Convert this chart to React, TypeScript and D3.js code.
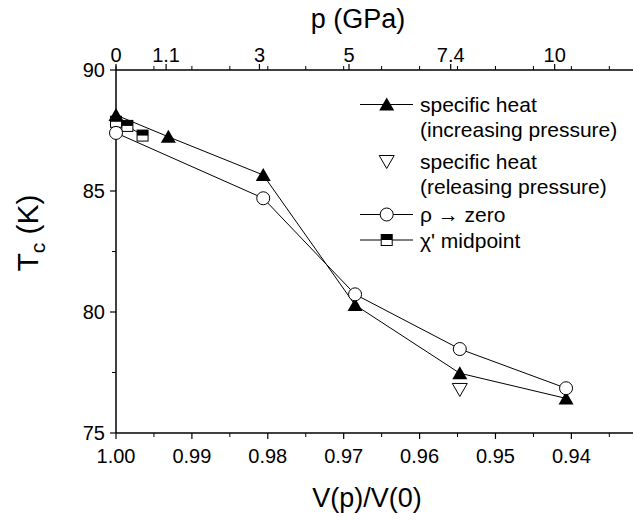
import React from "react";
import * as d3 from "d3";

// ---- data ----
const V_INC = [1.0, 0.9931, 0.9806, 0.9685, 0.9547, 0.9407];
const T_INC = [88.14, 87.24, 85.66, 80.29, 77.47, 76.43];
const V_REL = [0.9547];
const T_REL = [76.8];
const V_RHO = [1.0, 0.9806, 0.9685, 0.9547, 0.9407];
const T_RHO = [87.4, 84.7, 80.73, 78.47, 76.85];
const V_CHI = [1.0, 0.9985, 0.9965];
const T_CHI = [87.86, 87.69, 87.29];

const X_MAJOR = [1.0, 0.99, 0.98, 0.97, 0.96, 0.95, 0.94];
const X_MINOR = [0.995, 0.985, 0.975, 0.965, 0.955, 0.945, 0.935];
const Y_MAJOR = [75, 80, 85, 90];
const Y_MINOR = [77.5, 82.5, 87.5];
const P_LABELS = ["0", "1.1", "3", "5", "7.4", "10"];
const P_V = [1.0, 0.9934, 0.9811, 0.9693, 0.9559, 0.9422];

const LEGEND_LINES = [
  "specific heat",
  "(increasing pressure)",
  "specific heat",
  "(releasing pressure)",
  "\u03C1 \u2192 zero",
  "\u03C7' midpoint",
];

const W = 633;
const H = 520;
const FONT = "'Liberation Sans', Arial, Helvetica, sans-serif";

const x = d3.scaleLinear().domain([1.0, 0.93188]).range([116, 633]);
const y = d3.scaleLinear().domain([75, 90]).range([433, 70]);

const triUp = "M0,-7L7.5,6L-7.5,6Z";
const triDown = "M0,7L7.5,-6L-7.5,-6Z";

function HalfSquare({ cx, cy }: { cx: number; cy: number }) {
  const s = 11;
  return (
    <g transform={`translate(${cx},${cy})`}>
      <rect x={-s / 2} y={-s / 2} width={s} height={s} fill="white" stroke="black" strokeWidth={1} />
      <rect x={-s / 2} y={-s / 2} width={s} height={s / 2} fill="black" />
    </g>
  );
}

export default function App() {
  const line = d3
    .line<[number, number]>()
    .x((d) => x(d[0]))
    .y((d) => y(d[1]));
  const incPts = V_INC.map((v, i) => [v, T_INC[i]] as [number, number]);
  const rhoPts = V_RHO.map((v, i) => [v, T_RHO[i]] as [number, number]);
  const chiPts = V_CHI.map((v, i) => [v, T_CHI[i]] as [number, number]);

  const axisY = y(75);
  const topY = y(90);
  const x0 = x(1.0);
  const xEnd = x.range()[1];

  const legX1 = 360;
  const legX2 = 413;
  const legM = 386.7;
  const legText = 420;
  const legBase = [112, 137, 169, 194, 222, 247.5];

  return (
    <svg
      width={W}
      height={H}
      style={{ position: "absolute", left: 0, top: 0, display: "block", background: "white" }}
      fontFamily={FONT}
    >
      <rect width={W} height={H} fill="white" />
      {/* axes lines */}
      <line x1={x0} x2={xEnd} y1={axisY} y2={axisY} stroke="black" strokeWidth={1.5} />
      <line x1={x0} x2={xEnd} y1={topY} y2={topY} stroke="black" strokeWidth={1.5} />
      <line x1={x0} x2={x0} y1={topY} y2={axisY} stroke="black" strokeWidth={1.5} />

      {/* bottom ticks */}
      {X_MAJOR.map((v) => (
        <g key={"bx" + v}>
          <line x1={x(v)} x2={x(v)} y1={axisY} y2={axisY + 6} stroke="black" strokeWidth={1.2} />
          <text x={x(v)} y={463} textAnchor="middle" fontSize={20}>
            {v.toFixed(2)}
          </text>
          <line x1={x(v)} x2={x(v)} y1={topY} y2={topY - 4} stroke="black" strokeWidth={1} />
        </g>
      ))}
      {X_MINOR.map((v) => (
        <g key={"bm" + v}>
          <line x1={x(v)} x2={x(v)} y1={axisY} y2={axisY + 4} stroke="black" strokeWidth={1} />
          <line x1={x(v)} x2={x(v)} y1={topY} y2={topY - 4} stroke="black" strokeWidth={1} />
        </g>
      ))}
      {/* top pressure ticks */}
      {P_V.map((v, i) => (
        <g key={"p" + i}>
          <line x1={x(v)} x2={x(v)} y1={topY} y2={topY - 6} stroke="black" strokeWidth={1.2} />
          <text x={x(v)} y={62} textAnchor="middle" fontSize={20}>
            {P_LABELS[i]}
          </text>
        </g>
      ))}
      {/* y ticks */}
      {Y_MAJOR.map((t) => (
        <g key={"y" + t}>
          <line x1={x0 - 6} x2={x0} y1={y(t)} y2={y(t)} stroke="black" strokeWidth={1.2} />
          <text x={105} y={y(t) + 7} textAnchor="end" fontSize={20}>
            {t}
          </text>
        </g>
      ))}
      {Y_MINOR.map((t) => (
        <line key={"ym" + t} x1={x0 - 4} x2={x0} y1={y(t)} y2={y(t)} stroke="black" strokeWidth={1} />
      ))}

      {/* titles */}
      <text x={358} y={28} textAnchor="middle" fontSize={27}>
        p (GPa)
      </text>
      <text x={367} y={507} textAnchor="middle" fontSize={27}>
        V(p)/V(0)
      </text>
      <text transform="translate(38,233) rotate(-90)" textAnchor="middle" fontSize={30}>
        T
        <tspan fontSize={21} dy={7}>
          c
        </tspan>
        <tspan dy={-7}> (K)</tspan>
      </text>

      {/* series lines */}
      <path d={line(incPts) || ""} fill="none" stroke="black" strokeWidth={1} />
      <path d={line(rhoPts) || ""} fill="none" stroke="black" strokeWidth={1} />
      <path d={line(chiPts) || ""} fill="none" stroke="black" strokeWidth={1} />

      {/* markers */}
      {V_CHI.map((v, i) => (
        <HalfSquare key={"c" + i} cx={x(v)} cy={y(T_CHI[i])} />
      ))}
      {V_INC.map((v, i) => (
        <path key={"t" + i} d={triUp} transform={`translate(${x(v)},${y(T_INC[i])})`} fill="black" />
      ))}
      {V_REL.map((v, i) => (
        <path
          key={"r" + i}
          d={triDown}
          transform={`translate(${x(v)},${y(T_REL[i])})`}
          fill="white"
          stroke="black"
          strokeWidth={1}
        />
      ))}
      {V_RHO.map((v, i) => (
        <circle key={"o" + i} cx={x(v)} cy={y(T_RHO[i])} r={6.5} fill="white" stroke="black" strokeWidth={1} />
      ))}

      {/* legend */}
      <line x1={legX1} x2={legX2} y1={legBase[0] - 7.5} y2={legBase[0] - 7.5} stroke="black" strokeWidth={1} />
      <path d={triUp} transform={`translate(${legM},${legBase[0] - 7.5})`} fill="black" />
      <path
        d={triDown}
        transform={`translate(${legM},${legBase[2] - 7.5})`}
        fill="white"
        stroke="black"
        strokeWidth={1}
      />
      <line x1={legX1} x2={legX2} y1={legBase[4] - 7.5} y2={legBase[4] - 7.5} stroke="black" strokeWidth={1} />
      <circle cx={legM} cy={legBase[4] - 7.5} r={6.5} fill="white" stroke="black" strokeWidth={1} />
      <line x1={legX1} x2={legX2} y1={legBase[5] - 7.5} y2={legBase[5] - 7.5} stroke="black" strokeWidth={1} />
      <HalfSquare cx={legM} cy={legBase[5] - 7.5} />
      {LEGEND_LINES.map((s, i) => (
        <text key={"l" + i} x={legText} y={legBase[i]} fontSize={21}>
          {s}
        </text>
      ))}
    </svg>
  );
}
